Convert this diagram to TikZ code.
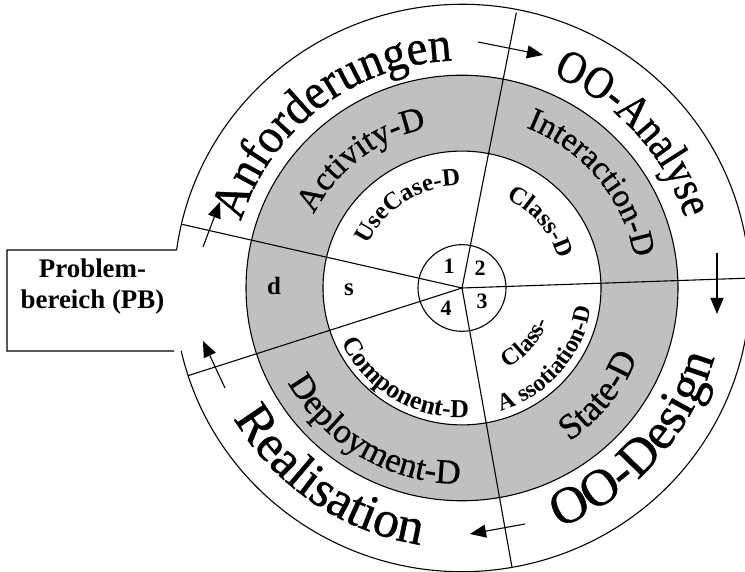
\documentclass[tikz,border=0pt]{standalone}
\usepackage{fontspec}
\setmainfont{Liberation Serif}
\usetikzlibrary{decorations.text,arrows.meta}

% serif faces for the ring labels
\newfontfamily\ringA[FakeStretch=0.93,FakeBold=0.8]{Liberation Serif}
\newfontfamily\ringB[FakeStretch=0.87,FakeBold=0.8]{Liberation Serif}
\newfontfamily\ringC[FakeBold=0.8]{Liberation Serif}

% font sizes for the ring labels
\newcommand\fOutA{\ringA\fontsize{50pt}{54pt}\selectfont}
\newcommand\fOutB{\ringB\fontsize{46pt}{50pt}\selectfont}
\newcommand\fOutC{\ringC\fontsize{52pt}{56pt}\selectfont}
\newcommand\fGrayA{\ringC\fontsize{34pt}{38pt}\selectfont}
\newcommand\fGrayB{\ringC\fontsize{33pt}{37pt}\selectfont}
\newcommand\fGrayC{\ringC\fontsize{36pt}{40pt}\selectfont}
\newcommand\fGrayD{\ringC\fontsize{35pt}{39pt}\selectfont}
\newcommand\fInA{\fontsize{25pt}{28pt}\selectfont\bfseries}
\newcommand\fInB{\fontsize{26pt}{29pt}\selectfont\bfseries}
\newcommand\fInC{\fontsize{24pt}{27pt}\selectfont\bfseries}

% text on the upper half: clockwise, letters pointing outwards
% #1 font, #2 text, #3 baseline radius, #4 centre angle
\newcommand\arcup[4]{%
  \path[decorate,decoration={text along path,text align=center,text={|#1|#2}}]
    ({#4+70}:#3) arc[start angle={#4+70},end angle={#4-70},radius=#3];}
% text on the lower half: counter-clockwise, letters pointing inwards
\newcommand\arcdown[4]{%
  \path[decorate,decoration={text along path,text align=center,text={|#1|#2}}]
    ({#4-70}:#3) arc[start angle={#4-70},end angle={#4+70},radius=#3];}

\definecolor{ringgray}{RGB}{192,192,192}

\begin{document}
\begin{tikzpicture}[x=1bp,y=1bp,line width=1.1bp,
  arr/.style={-{Triangle[length=16bp,width=13bp]}},
  num/.style={inner sep=0pt,font=\fontsize{22pt}{22pt}\selectfont\bfseries},
  letter/.style={inner sep=0pt,font=\fontsize{25pt}{25pt}\selectfont\bfseries},
  pbtext/.style={inner sep=0pt,anchor=base,font=\fontsize{27pt}{31pt}\selectfont\bfseries}]
\useasboundingbox (0,0) rectangle (745,572);

\begin{scope}[shift={(462,284)},yscale=0.985]
  \coordinate (c) at (0,0);
  % grey ring of the diagram types
  \fill[ringgray,even odd rule] (c) circle[radius=216] (c) circle[radius=139];
  \draw (c) circle[radius=216];
  \draw (c) circle[radius=139];
  \draw (c) circle[radius=44];
  % outer ring, open towards the problem area box
  \coordinate (ot) at (172.3:288);
  \coordinate (ob) at (192.8:288);
  \draw (ob) arc[start angle=192.8,end angle=532.3,radius=288];
  % sector borders
  \coordinate (r1) at (79:285);
  \coordinate (r2) at (2:290);
  \coordinate (r3) at (-80:288);
  \coordinate (r4) at (198:288);
  \coordinate (r5) at (167:288);
  \draw (c) -- (r1);
  \draw (c) -- (r2);
  \draw (c) -- (r3);
  \draw (c) -- (r4);
  \draw (c) -- (r5);

  % phases
  \arcup{\fOutA}{Anforderungen}{231}{127.9}
  \arcup{\fOutB}{OO-Analyse}{234}{42.1}
  \arcdown{\fOutC}{OO-Design}{262}{-41.6}
  \arcdown{\fOutC}{Realisation}{264}{235.2}

  % diagrams in the grey ring
  \arcup{\fGrayA}{Activity-D}{166}{128}
  \arcup{\fGrayB}{Interaction-D}{175}{39}
  \arcdown{\fGrayC}{State-D}{189}{-38.3}
  \arcdown{\fGrayD}{Deployment-D}{199}{238.9}

  % diagrams in the inner ring
  \arcup{\fInA}{UseCase-D}{104}{123}
  \arcup{\fInA}{Class-D}{101}{40}
  \arcdown{\fInB}{Component-D}{132}{238.5}
  \arcdown{\fInC}{Class-}{93}{-40.8}
  \arcdown{\fInC}{A ssotiation-D}{131}{-40.6}
\end{scope}

% problem area box
\draw (ot) -- (7,322) -- (7,221) -- (174,221);
\node[pbtext] (pb1) at (92.5,294) {Problem-};
\node[pbtext] (pb2) at (92.5,263) {bereich (PB)};

% sector numbers and letters
\node[num] (n1) at (449,306) {1};
\node[num] (n2) at (480,304) {2};
\node[num] (n3) at (482,271) {3};
\node[num] (n4) at (446,264) {4};
\node[letter] (ld) at (274,286.5) {d};
\node[letter] (ls) at (349,282) {s};

% direction of the cycle
\coordinate (a1s) at (203,325); \coordinate (a1e) at (220,370);
\coordinate (a2s) at (478,530); \coordinate (a2e) at (543,517);
\coordinate (a3s) at (717,319); \coordinate (a3e) at (717,258);
\coordinate (a4s) at (525,48);  \coordinate (a4e) at (470,38);
\coordinate (a5s) at (225,184); \coordinate (a5e) at (203,231);
\draw[arr] (a1s) -- (a1e);
\draw[arr] (a2s) -- (a2e);
\draw[arr] (a3s) -- (a3e);
\draw[arr] (a4s) -- (a4e);
\draw[arr] (a5s) -- (a5e);
\end{tikzpicture}
\end{document}
